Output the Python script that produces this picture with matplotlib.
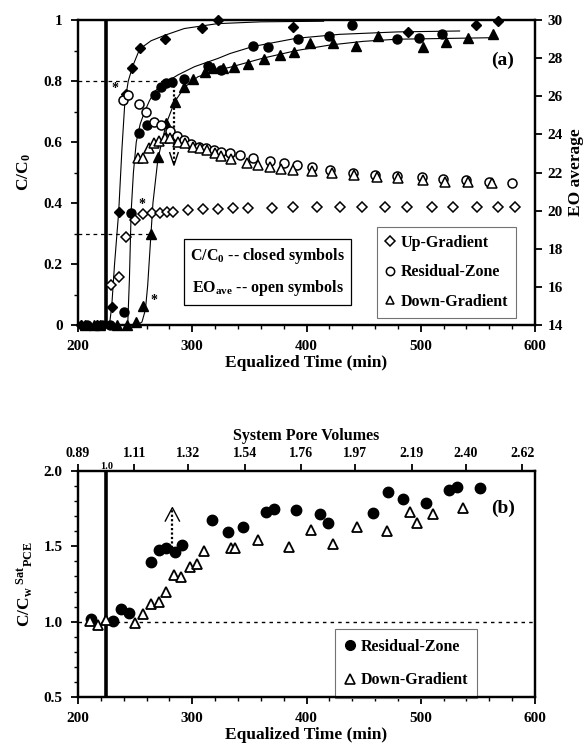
import numpy as np
import matplotlib
matplotlib.use("Agg")
import matplotlib.pyplot as plt
from matplotlib.ticker import MultipleLocator, FuncFormatter
from matplotlib.lines import Line2D

plt.rcParams['font.family'] = ['Liberation Serif', 'DejaVu Serif']
plt.rcParams['font.weight'] = 'bold'
plt.rcParams['axes.labelweight'] = 'bold'
plt.rcParams['mathtext.fontset'] = 'custom'
plt.rcParams['mathtext.rm'] = 'Liberation Serif:bold'
plt.rcParams['mathtext.it'] = 'Liberation Serif:bold'
plt.rcParams['mathtext.bf'] = 'Liberation Serif:bold'

# ---------------- Panel (a) data ----------------
# closed symbols: C/C0
ug_t = [203, 217, 229.5, 235.6, 242, 247.6, 254, 276, 308.5, 322.5, 388.5, 489, 548, 567.6]
ug_c = [0, 0, 0.06, 0.372, 0.756, 0.843, 0.907, 0.937, 0.975, 1.0, 0.976, 0.962, 0.984, 0.998]

rz_t = [208, 221, 228, 240, 246, 253, 260.7, 267, 272.4, 277.3, 282.3, 293, 313.5, 325,
        353, 366.6, 392.9, 419.7, 440, 479.5, 498.7, 519]
rz_c = [0, 0, 0, 0.044, 0.366, 0.628, 0.656, 0.754, 0.781, 0.792, 0.798, 0.808, 0.848, 0.836,
        0.915, 0.91, 0.938, 0.949, 0.984, 0.938, 0.942, 0.953]

dg_t = [206, 214, 219, 234, 242.6, 250.8, 257, 263.6, 270, 277.3, 284.6, 293, 300.7, 311, 318,
        326.6, 336.8, 349, 362.5, 376.5, 389, 403, 423.5, 443.3, 462.8, 501.7, 522, 541.6, 563]
dg_c = [0, 0, 0, 0, 0, 0.011, 0.062, 0.30, 0.552, 0.661, 0.732, 0.781, 0.805, 0.83, 0.842,
        0.842, 0.845, 0.856, 0.873, 0.884, 0.895, 0.926, 0.926, 0.916, 0.949, 0.91, 0.929, 0.942, 0.953]

# fitted curves
ug_fit_t = [227.5, 229.5, 232, 235.6, 238.5, 241, 244, 248, 254, 264, 276, 293, 322, 360, 415]
ug_fit_c = [0, 0.06, 0.2, 0.37, 0.58, 0.73, 0.80, 0.85, 0.905, 0.932, 0.95, 0.972, 0.988, 0.994, 0.996]

rz_fit_t = [243.5, 245, 246.5, 248.5, 251, 254.5, 258.4, 262.5, 267, 272.5, 278.8, 287.5, 302,
            322.5, 333, 353, 391, 429, 480, 534]
rz_fit_c = [0, 0.15, 0.37, 0.5, 0.6, 0.66, 0.70, 0.735, 0.765, 0.785, 0.80, 0.82, 0.847,
            0.874, 0.89, 0.913, 0.94, 0.953, 0.961, 0.964]

dg_fit_t = [252, 256, 259, 261, 262.7, 265.6, 270, 277.3, 284.6, 293.4, 305, 322.5, 333, 362,
            391.4, 420.6, 449.7, 479, 563.5]
dg_fit_c = [0, 0.01, 0.05, 0.13, 0.23, 0.40, 0.546, 0.661, 0.732, 0.78, 0.814, 0.836, 0.845, 0.875,
            0.9, 0.918, 0.93, 0.937, 0.942]

# open symbols: EO average
ug_eo_t = [229, 235.5, 242, 249.5, 257, 264.5, 271.8, 277.6, 283.4, 296.5, 309.6, 322.8, 336, 349,
           369.5, 388.5, 409, 429, 448.5, 468.7, 487.7, 509.5, 528.5, 549, 568, 582.5]
ug_eo = [16.1, 16.5, 18.6, 19.5, 19.8, 19.85, 19.9, 19.95, 19.95, 20.05, 20.1, 20.1, 20.12, 20.15,
         20.15, 20.17, 20.17, 20.17, 20.17, 20.17, 20.17, 20.17, 20.17, 20.17, 20.17, 20.17]

rz_eo_t = [239.4, 243.8, 253, 259.8, 266.5, 273, 280.2, 286.7, 292.8, 299.2, 305.6, 312.3, 318.7,
           325.5, 332.7, 341.8, 353.5, 368, 380, 392, 404.5, 420.6, 440.4, 460, 479, 500.8, 519.8,
           540, 560, 579.6]
rz_eo = [25.8, 26.06, 25.6, 25.2, 24.67, 24.5, 24.2, 23.9, 23.7, 23.5, 23.36, 23.26, 23.2,
         23.1, 23.0, 22.9, 22.75, 22.6, 22.5, 22.4, 22.3, 22.13, 21.99, 21.87, 21.82, 21.78, 21.64,
         21.6, 21.5, 21.43]

dg_eo_t = [252.5, 257, 261.9, 266.5, 271, 276, 280.5, 287.5, 293.4, 300.7, 306.5, 313, 319.6,
           325.5, 334, 348, 357.8, 368, 378, 388.4, 404.5, 422, 441.6, 461.4, 480.4, 502, 521,
           541.6, 562]
dg_eo = [22.74, 22.74, 23.26, 23.53, 23.65, 23.8, 23.8, 23.6, 23.53, 23.36, 23.27, 23.18, 23.0,
         22.88, 22.7, 22.5, 22.4, 22.3, 22.2, 22.13, 22.1, 21.96, 21.87, 21.78, 21.7, 21.6, 21.5,
         21.5, 21.46]

# ---------------- Panel (b) data ----------------
rzb_t = [211, 230.6, 238, 244.3, 264.2, 271, 277.3, 284.6, 291, 317.3, 331.3, 344.4, 364.8,
         371.6, 391, 411.8, 418.5, 457.9, 471, 484.8, 504.6, 525, 532, 551.9]
rzb_v = [1.016, 1.004, 1.082, 1.055, 1.394, 1.476, 1.491, 1.465, 1.509, 1.675, 1.597, 1.63, 1.73,
         1.748, 1.741, 1.712, 1.657, 1.719, 1.858, 1.812, 1.785, 1.874, 1.892, 1.885]

dgb_t = [210.2, 217.5, 224.8, 250.2, 256.9, 263.6, 270.6, 277.3, 284, 290.4, 297.7, 304.2, 310.3,
         334.2, 337.7, 357.5, 384.4, 404, 423.5, 444.5, 470.7, 490.6, 497, 511, 537.2]
dgb_v = [1.007, 0.978, 1.011, 0.989, 1.051, 1.117, 1.128, 1.197, 1.312, 1.294, 1.361, 1.383, 1.471,
         1.491, 1.491, 1.542, 1.498, 1.608, 1.515, 1.63, 1.602, 1.73, 1.657, 1.712, 1.757]

pv_labels = ['0.89', '1.11', '1.32', '1.54', '1.76', '1.97', '2.19', '2.40', '2.62']
T_PV = 224.7  # minutes per system pore volume (1.0 PV line)

# ---------------- figure ----------------
fig = plt.figure(figsize=(5.87, 7.53), dpi=100)
W, H = 587, 753
def rect(l, r, t, b):
    return [l / W, 1 - b / H, (r - l) / W, (b - t) / H]

TICK_FS = 11
LAB_FS = 12.5

ax = fig.add_axes(rect(78, 535, 20, 325))
ax.set_xlim(200, 600)
ax.set_ylim(0, 1)
for s in ax.spines.values():
    s.set_linewidth(1.6)

# fits
ax.plot(ug_fit_t, ug_fit_c, color='black', lw=0.8, zorder=2)
ax.plot(rz_fit_t, rz_fit_c, color='black', lw=0.8, zorder=2)
ax.plot(dg_fit_t, dg_fit_c, color='black', lw=0.8, zorder=2)

ax.plot(ug_t, ug_c, 'D', color='black', ms=5.5, ls='none', zorder=4, clip_on=False)
ax.plot(rz_t, rz_c, 'o', color='black', ms=6.5, ls='none', zorder=4, clip_on=False)
ax.plot(dg_t, dg_c, '^', color='black', ms=7, ls='none', zorder=4, clip_on=False)

ax.axvline(T_PV, color='black', lw=2.6, zorder=3)

# dashed guides
ax.plot([200, 283], [0.8, 0.8], color='black', lw=0.9, ls=(0, (3, 3)))
ax.plot([200, 263], [0.3, 0.3], color='black', lw=0.9, ls=(0, (3, 3)))
ax.plot([284, 284], [0.80, 0.53], color='black', lw=1.6, ls=(0, (1, 1)))
ax.plot([280.3, 284, 287.7], [0.565, 0.524, 0.565], color='black', lw=1.0)

for (tx, ty) in [(232, 0.775), (256, 0.395), (266.5, 0.08)]:
    ax.text(tx, ty, '*', fontsize=10, ha='center', va='center')

ax.text(572, 0.869, '(a)', fontsize=14, fontweight='bold', ha='center', va='center')

ax.text(366, 0.174, 'C/C$_0$ -- closed symbols\nEO$_{\\mathrm{ave}}$ -- open symbols',
        fontsize=11.5, fontweight='bold', ha='center', va='center', linespacing=1.9,
        bbox=dict(boxstyle='square,pad=0.4', fc='white', ec='black', lw=0.9), zorder=6)

ax.xaxis.set_major_locator(MultipleLocator(100))
ax.xaxis.set_minor_locator(MultipleLocator(20))
ax.yaxis.set_major_locator(MultipleLocator(0.2))
ax.yaxis.set_minor_locator(MultipleLocator(0.1))
ax.yaxis.set_major_formatter(FuncFormatter(lambda v, p: '0' if abs(v) < 1e-9 else ('1' if abs(v - 1) < 1e-9 else f'{v:.1f}')))
ax.tick_params(which='major', direction='out', length=5, width=1.3, labelsize=TICK_FS, pad=6)
ax.tick_params(which='minor', direction='out', length=3, width=1.0)
ax.tick_params(axis='x', which='both', top=False)
ax.tick_params(axis='y', which='both', right=False)
ax.set_xlabel('Equalized Time (min)', fontsize=LAB_FS, fontweight='bold', labelpad=1)
ax.set_ylabel('C/C$_0$', fontsize=LAB_FS, fontweight='bold', labelpad=8)

axr = ax.twinx()
axr.set_ylim(14, 30)
axr.yaxis.set_major_locator(MultipleLocator(2))
axr.tick_params(which='major', direction='out', length=5, width=1.3, labelsize=TICK_FS, pad=4)
axr.plot(ug_eo_t, ug_eo, 'D', mfc='white', mec='black', mew=1.1, ms=5, ls='none', zorder=3)
axr.plot(rz_eo_t, rz_eo, 'o', mfc='white', mec='black', mew=1.1, ms=6.5, ls='none', zorder=3)
axr.plot(dg_eo_t, dg_eo, '^', mfc='white', mec='black', mew=1.1, ms=6.5, ls='none', zorder=3)
axr.set_ylabel('EO average', fontsize=LAB_FS, fontweight='bold', labelpad=4)
for s in axr.spines.values():
    s.set_linewidth(1.6)
axr.set_zorder(ax.get_zorder() + 1)
axr.patch.set_visible(False)

handles = [Line2D([], [], marker='D', mfc='white', mec='black', mew=1.1, ms=5, ls='none'),
           Line2D([], [], marker='o', mfc='white', mec='black', mew=1.1, ms=6, ls='none'),
           Line2D([], [], marker='^', mfc='white', mec='black', mew=1.1, ms=6, ls='none')]
leg = axr.legend(handles, ['Up-Gradient', 'Residual-Zone', 'Down-Gradient'],
                 loc='upper left', bbox_to_anchor=(0.654, 0.322),
                 prop={'size': 11.5, 'weight': 'bold'},
                 handlelength=0.7, handletextpad=0.3, labelspacing=0.85, borderpad=0.5,
                 borderaxespad=0, fancybox=False, framealpha=1)
leg.get_frame().set_edgecolor('0.45')
leg.get_frame().set_linewidth(0.8)

# ---------------- Panel (b) ----------------
bx = fig.add_axes(rect(78, 535, 471, 697))
bx.set_xlim(200, 600)
bx.set_ylim(0.5, 2.0)
for s in bx.spines.values():
    s.set_linewidth(1.6)
bx.plot([200, 600], [1.0, 1.0], color='black', lw=1.0, ls=(0, (2.5, 3)), zorder=2)
bx.axvline(T_PV, color='black', lw=2.6, zorder=3)
bx.plot(rzb_t, rzb_v, 'o', color='black', ms=7.5, ls='none', zorder=4)
bx.plot(dgb_t, dgb_v, '^', mfc='white', mec='black', mew=1.3, ms=7.5, ls='none', zorder=5)
bx.plot([282.6, 282.6], [1.49, 1.75], color='black', lw=1.6, ls=(0, (1, 1)))
bx.plot([276.4, 282.6, 288.8], [1.668, 1.757, 1.668], color='black', lw=1.0)
bx.text(572, 1.752, '(b)', fontsize=14, fontweight='bold', ha='center', va='center')

bx.xaxis.set_major_locator(MultipleLocator(100))
bx.xaxis.set_minor_locator(MultipleLocator(20))
bx.yaxis.set_major_locator(MultipleLocator(0.5))
bx.yaxis.set_minor_locator(MultipleLocator(0.1))
bx.yaxis.set_major_formatter(FuncFormatter(lambda v, p: f'{v:.1f}'))
bx.tick_params(which='major', direction='out', length=5, width=1.3, labelsize=TICK_FS, pad=6)
bx.tick_params(which='minor', direction='out', length=3, width=1.0)
bx.tick_params(axis='x', which='both', top=False)
bx.tick_params(axis='y', which='both', right=False)
bx.set_xlabel('Equalized Time (min)', fontsize=LAB_FS, fontweight='bold', labelpad=1)
bx.set_ylabel('C/C$_{\\mathrm{w}}$$^{\\ \\mathrm{Sat}}$$_{\\mathrm{PCE}}$', fontsize=LAB_FS,
              fontweight='bold', labelpad=6)

bt = bx.twiny()
bt.set_xlim(200, 600)
bt.set_xticks([float(s) * T_PV for s in pv_labels])
bt.set_xticklabels(pv_labels)
bt.tick_params(which='major', direction='out', length=5, width=1.3, labelsize=10, pad=3)
bt.set_xlabel('System Pore Volumes', fontsize=11.5, fontweight='bold', labelpad=5)
for s in bt.spines.values():
    s.set_linewidth(1.6)
bx.text(T_PV, 2.0, '1.0', fontsize=7.5, fontweight='bold', ha='center', va='bottom',
        transform=bx.transData, clip_on=False)

hb = [Line2D([], [], marker='o', color='black', ms=7, ls='none'),
      Line2D([], [], marker='^', mfc='white', mec='black', mew=1.2, ms=7, ls='none')]
lb = bx.legend(hb, ['Residual-Zone', 'Down-Gradient'], loc='upper left',
               bbox_to_anchor=(0.562, 0.30), prop={'size': 11.5, 'weight': 'bold'},
               handlelength=0.7, handletextpad=0.3, labelspacing=1.1, borderpad=0.6,
               borderaxespad=0, fancybox=False, framealpha=1)
lb.get_frame().set_edgecolor('0.45')
lb.get_frame().set_linewidth(0.8)

fig.savefig('out.png', dpi=100)
